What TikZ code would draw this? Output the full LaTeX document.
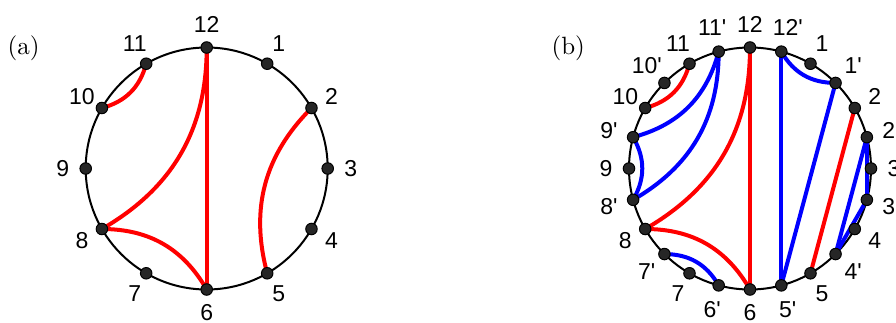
\documentclass[tikz,border=0pt]{standalone}
\usepackage{fontspec}
\newfontfamily\lblfont{Liberation Sans}

\begin{document}
\begin{tikzpicture}[x=0.4pt,y=0.4pt]
  \tikzstyle{vtx}=[circle,draw=black,fill=black!85,inner sep=0pt,minimum size=4.6pt]
  \tikzstyle{lbl}=[font=\lblfont\fontsize{9.2}{11}\selectfont,inner sep=0pt]
  \tikzstyle{redchord}=[red,line width=1.6pt]
  \tikzstyle{bluechord}=[blue,line width=1.6pt]
  \useasboundingbox (0,0) rectangle (896,322);
  % (a): twelve points
  \node (tagA) at (23.5,274) {(a)};
  \begin{scope}[shift={(206.7,153.5)}]
    \draw[line width=0.8pt] (0,0) circle (121);
    \foreach \k in {1,...,12} {
      \coordinate (a\k) at ({90-30*\k}:121);
    }
    \draw[redchord] (a11) to[bend left=30] (a10);
    \draw[redchord] (a12) to[bend left=30] (a8);
    \draw[redchord] (a8) to[bend left=30] (a6);
    \draw[redchord] (a12) -- (a6);
    \draw[redchord] (a5) to[bend left=30] (a2);
    \foreach \k in {1,...,12} {
      \node[vtx] (da\k) at (a\k) {};
      \node[lbl] (la\k) at ({90-30*\k}:144) {\k};
    }
  \end{scope}
  % (b): primed points in between
  \node (tagB) at (568.3,274) {(b)};
  \begin{scope}[shift={(750,153.5)}]
    \draw[line width=0.8pt] (0,0) circle (121);
    \foreach \k in {1,...,12} {
      \coordinate (b\k) at ({90-30*\k}:121);
      \coordinate (bp\k) at ({75-30*\k}:121);
    }
    \draw[bluechord] (bp11) to[bend left=30] (bp9);
    \draw[bluechord] (bp11) to[bend left=30] (bp8);
    \draw[bluechord] (bp9) to[bend left=30] (bp8);
    \draw[bluechord] (bp7) to[bend left=30] (bp6);
    \draw[bluechord] (bp1) to[bend left=30] (bp12);
    \draw[bluechord] (bp12) -- (bp5);
    \draw[bluechord] (bp1) -- (bp5);
    \draw[bluechord] (bp2) -- (bp3);
    \draw[bluechord] (bp3) -- (bp4);
    \draw[bluechord] (bp2) -- (bp4);
    \draw[redchord] (b11) to[bend left=30] (b10);
    \draw[redchord] (b12) to[bend left=30] (b8);
    \draw[redchord] (b8) to[bend left=30] (b6);
    \draw[redchord] (b12) -- (b6);
    \draw[redchord] (b2) -- (b5);
    \foreach \k in {1,...,12} {
      \node[vtx] (db\k) at (b\k) {};
      \node[vtx] (dbp\k) at (bp\k) {};
      \node[lbl] (lb\k) at ({90-30*\k}:144) {\k};
      \node[lbl] (lbp\k) at ({75-30*\k}:146) {\k'};
    }
  \end{scope}
\end{tikzpicture}
\end{document}
